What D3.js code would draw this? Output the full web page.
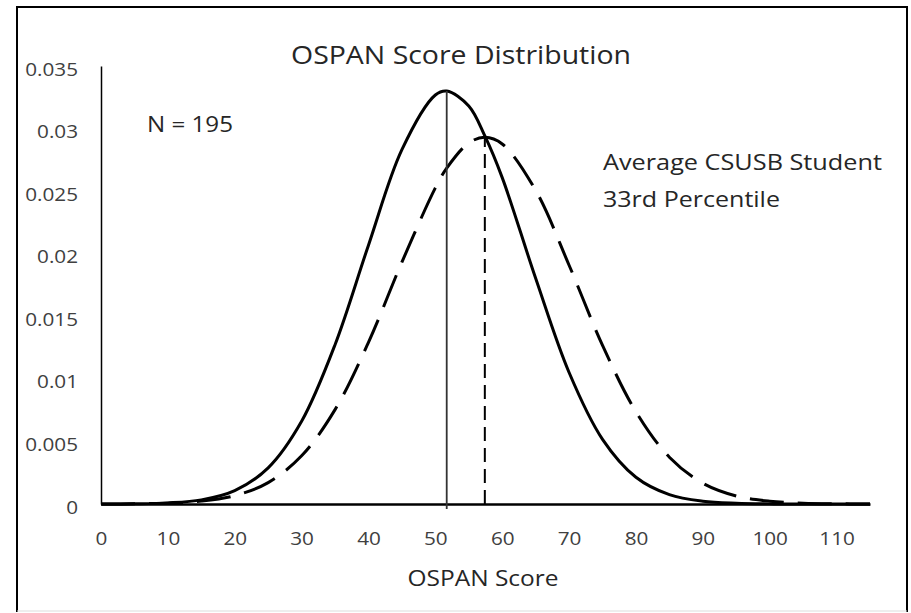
<!DOCTYPE html>
<html>
<head>
<meta charset="utf-8">
<script src="https://cdn.jsdelivr.net/npm/d3@7"></script>
<style>
  body { margin: 0; background: #fff; }
  text { font-family: "Open Sans", Lato, sans-serif; }
</style>
</head>
<body>
<svg id="chart" width="911" height="613"></svg>
<script>
// DATA
const scores = [0, 5, 10, 15, 20, 25, 30, 35, 40, 45, 50, 51.7, 55, 57.4, 60, 65, 70, 75, 80, 85, 90, 95, 100, 105, 110, 115];
const sampleDensity = [0.000004, 0.00002, 0.00009, 0.00033, 0.00107, 0.00289, 0.00661, 0.01273, 0.02068, 0.02831, 0.03268, 0.0330, 0.0318, 0.02941, 0.02608, 0.01804, 0.01051, 0.00517, 0.00214, 0.00075, 0.00022, 0.000055, 0.00001, 0.000002, 0, 0];
const csusbDensity = [0.000004, 0.000018, 0.000068, 0.00023, 0.00067, 0.00171, 0.00385, 0.00754, 0.01292, 0.01933, 0.02526, 0.02684, 0.02885, 0.0293, 0.02877, 0.02506, 0.01908, 0.01268, 0.00737, 0.00374, 0.00166, 0.00064, 0.00022, 0.000064, 0.000017, 0.000004];
const sampleMean = 51.7;
const csusbMean = 57.4;
const xTicks = [0, 10, 20, 30, 40, 50, 60, 70, 80, 90, 100, 110];
const yTicks = [0, 0.005, 0.01, 0.015, 0.02, 0.025, 0.03, 0.035];

const svg = d3.select('#chart');

// outer frame (bottom edge is faint in the picture)
svg.append('path')
    .attr('d', 'M17,612 V7 H907 V612')
    .attr('fill', 'none')
    .attr('stroke', '#000')
    .attr('stroke-width', 2);
svg.append('line')
    .attr('x1', 17).attr('x2', 907).attr('y1', 611).attr('y2', 611)
    .attr('stroke', '#ddd');

// SCALES
const x = d3.scaleLinear().domain([0, 115]).range([101, 870]);
const y = d3.scaleLinear().domain([0, 0.035]).range([504, 66]);

// tick text in the picture is a bit wider than the font
function stretch(sel) {
    sel.each(function() {
        const w = this.getComputedTextLength();
        d3.select(this).attr('textLength', w * 1.15).attr('lengthAdjust', 'spacingAndGlyphs');
    });
}

// AXES
svg.append('g')
    .attr('transform', `translate(0,${y(0)})`)
    .call(d3.axisBottom(x).tickValues(xTicks).tickSize(0).tickPadding(28))
    .call(g => g.select('.domain').attr('stroke', '#000').attr('stroke-width', 2.5))
    .call(g => g.selectAll('text').attr('fill', '#404040').style('font-size', '18px').call(stretch));

svg.append('g')
    .attr('transform', `translate(${x(0)},0)`)
    .call(d3.axisLeft(y).tickValues(yTicks).tickSize(0).tickPadding(23)
        .tickFormat(d => String(+d.toFixed(3))))
    .call(g => g.select('.domain').attr('stroke', '#000').attr('stroke-width', 1.5))
    .call(g => g.selectAll('text').attr('fill', '#404040').style('font-size', '18px').attr('dy', '0.5em').call(stretch));

// CURVES
const line = d3.line().curve(d3.curveCatmullRom);

svg.append('path')
    .attr('d', line(scores.map((s, i) => [x(s), y(sampleDensity[i])])))
    .attr('fill', 'none')
    .attr('stroke', '#000')
    .attr('stroke-width', 3);

svg.append('path')
    .attr('d', line(scores.map((s, i) => [x(s), y(csusbDensity[i])])))
    .attr('fill', 'none')
    .attr('stroke', '#000')
    .attr('stroke-width', 3)
    .attr('stroke-dasharray', '34,14');

// mean lines
svg.append('line')
    .attr('x1', x(sampleMean)).attr('x2', x(sampleMean))
    .attr('y1', y(0) + 5).attr('y2', y(d3.max(sampleDensity)))
    .attr('stroke', '#333')
    .attr('stroke-width', 1.8);

svg.append('line')
    .attr('x1', x(csusbMean)).attr('x2', x(csusbMean))
    .attr('y1', y(0)).attr('y2', y(d3.max(csusbDensity)))
    .attr('stroke', '#000')
    .attr('stroke-width', 2)
    .attr('stroke-dasharray', '14,7');

// TEXT
function label(txt, xPos, yPos, size, width, anchor) {
    svg.append('text')
        .attr('x', xPos).attr('y', yPos)
        .attr('text-anchor', anchor || 'start')
        .attr('fill', '#262626')
        .attr('textLength', width)
        .attr('lengthAdjust', 'spacingAndGlyphs')
        .style('font-size', size + 'px')
        .text(txt);
}

label('OSPAN Score Distribution', 461, 64, 25, 340, 'middle');
label('N = 195', 147, 132, 21, 86);
label('Average CSUSB Student', 603, 170, 21, 279);
label('33rd Percentile', 603, 207, 21, 177);
label('OSPAN Score', 483, 586, 22, 151, 'middle');
</script>
</body>
</html>
